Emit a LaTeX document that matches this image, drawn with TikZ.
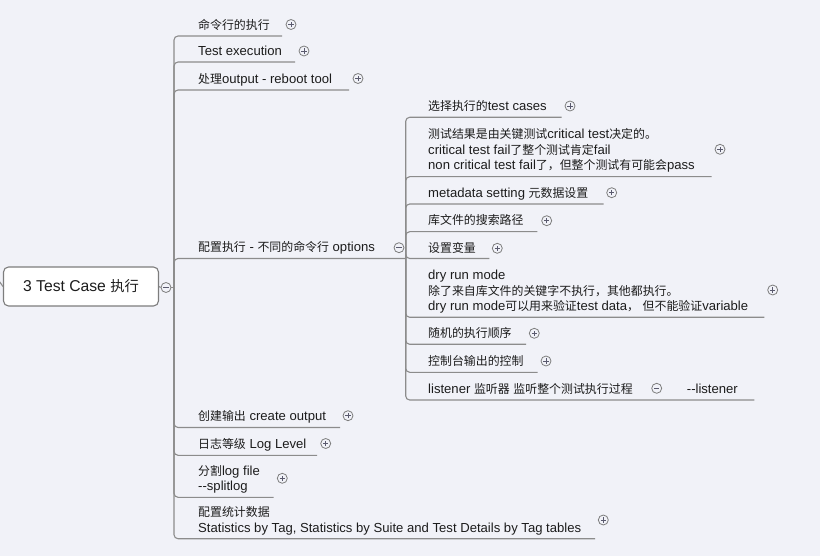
\documentclass[tikz,border=0pt]{standalone}
\usepackage{fontspec}
\setmainfont{Liberation Sans}
\newfontfamily\cjk[Scale=0.91]{Noto Sans CJK SC}
\newcommand\zh[1]{{\cjk #1}}
\definecolor{bgc}{RGB}{241,242,248}
\definecolor{linec}{RGB}{140,140,140}
\definecolor{txtc}{RGB}{28,28,28}
\definecolor{circc}{RGB}{125,125,125}
\definecolor{signc}{RGB}{90,90,110}
\tikzset{
  txt/.style={anchor=south west, inner sep=0pt, align=left, text depth=3pt,
    font=\fontsize{13.1}{15.5}\selectfont, text=txtc},
  branch/.style={draw=linec, line width=1.1pt, rounded corners=4pt},
  pmcirc/.style={circle, draw=circc, line width=0.8pt, minimum size=10pt, inner sep=0pt},
  plusc/.style={pmcirc, path picture={
      \draw[signc, line width=0.9pt]
        ([xshift=-2.6pt]path picture bounding box.center) -- ([xshift=2.6pt]path picture bounding box.center)
        ([yshift=-2.6pt]path picture bounding box.center) -- ([yshift=2.6pt]path picture bounding box.center);}},
  minusc/.style={pmcirc, path picture={
      \draw[signc, line width=0.9pt]
        ([xshift=-2.6pt]path picture bounding box.center) -- ([xshift=2.6pt]path picture bounding box.center);}},
  rootbox/.style={draw=circc, line width=1.1pt, fill=white, rounded corners=5pt,
    minimum width=155pt, minimum height=39pt, inner sep=0pt,
    font=\fontsize{15.7}{18}\selectfont, text=txtc}
}
\begin{document}
\begin{tikzpicture}[x=1pt,y=-1pt]
\fill[bgc] (0,0) rectangle (820,556);
\useasboundingbox (0,0) rectangle (820,556);

% root
\node[rootbox] (root) at (81,286.5) {3 Test Case \zh{执行}};
\coordinate (offparent) at (-3,278);
\draw[linec, line width=1.1pt] (offparent) -- (root.west);
\node[minusc] (rootc) at (166,287.5) {};
\coordinate (t1) at (174,287.5);
\draw[branch] (root.east) -- (rootc.west);
\draw[branch] (rootc.east) -- (t1);

% level-1 underline ends
\coordinate (uA1) at (282,36);
\coordinate (uA2) at (295,62);
\coordinate (uA3) at (349,90);
\coordinate (t2)  at (405.7,258.5);
\coordinate (uA5) at (340,427.5);
\coordinate (uA6) at (317,455.3);
\coordinate (uA7) at (273.5,497.3);
\coordinate (uA8) at (595,538.7);

\foreach \u in {uA1,uA2,uA3,t2,uA5,uA6,uA7,uA8}
  \draw[branch] (t1) |- (\u);

% level-1 texts
\node[txt] (A1) at (198,32.5) {\zh{命令行的执行}};
\node[txt] (A2) at (198,58.5) {Test execution};
\node[txt] (A3) at (198,86.5) {\zh{处理}output - reboot tool};
\node[txt] (A4) at (198,255) {\zh{配置执行} - \zh{不同的命令行} options};
\node[txt] (A5) at (198,424) {\zh{创建输出} create output};
\node[txt] (A6) at (198,451.8) {\zh{日志等级} Log Level};
\node[txt] (A7) at (198,493.8) {\zh{分割}log file\\-{}-splitlog};
\node[txt] (A8) at (198,535.2) {\zh{配置统计数据}\\Statistics by Tag, Statistics by Suite and Test Details by Tag tables};

\node[plusc] (cA1) at (291,24.5) {};
\node[plusc] (cA2) at (304,51) {};
\node[plusc] (cA3) at (358,78.5) {};
\node[minusc] (cA4) at (399,247.7) {};
\node[plusc] (cA5) at (348,415.7) {};
\node[plusc] (cA6) at (325.7,443.5) {};
\node[plusc] (cA7) at (282.3,478.3) {};
\node[plusc] (cA8) at (603.3,520) {};

% level-2 underline ends
\coordinate (uB1) at (561.7,117.3);
\coordinate (uB2) at (711.7,176.7);
\coordinate (uB3) at (603.5,204);
\coordinate (uB4) at (537.3,231.7);
\coordinate (uB5) at (489.3,258.5);
\coordinate (uB6) at (764.3,317.3);
\coordinate (uB7) at (526,344.3);
\coordinate (uB8) at (537.7,372.3);
\coordinate (uB9) at (754.3,400);

\foreach \u in {uB1,uB2,uB3,uB4,uB5,uB6,uB7,uB8,uB9}
  \draw[branch] (t2) |- (\u);

% level-2 texts
\node[txt] (B1) at (428,113.8) {\zh{选择执行的}test cases};
\node[txt] (B2) at (428,173.2) {\zh{测试结果是由关键测试}critical test\zh{决定的。}\\critical test fail\zh{了整个测试肯定}fail\\non critical test fail\zh{了，但整个测试有可能会}pass};
\node[txt] (B3) at (428,200.5) {metadata setting \zh{元数据设置}};
\node[txt] (B4) at (428,228.2) {\zh{库文件的搜索路径}};
\node[txt] (B5) at (428,255.3) {\zh{设置变量}};
\node[txt] (B6) at (428,313.8) {dry run mode\\\zh{除了来自库文件的关键字不执行，其他都执行。}\\dry run mode\zh{可以用来验证}test data\zh{，} \zh{但不能验证}variable};
\node[txt] (B7) at (428,340.8) {\zh{随机的执行顺序}};
\node[txt] (B8) at (428,368.8) {\zh{控制台输出的控制}};
\node[txt] (B9) at (428,396.5) {listener \zh{监听器} \zh{监听整个测试执行过程}};
\node[txt] (B9a) at (686.7,396.5) {-{}-listener};

\node[plusc] (cB1) at (570,106) {};
\node[plusc] (cB2) at (720,149.3) {};
\node[plusc] (cB3) at (611.7,192.7) {};
\node[plusc] (cB4) at (546.7,220.7) {};
\node[plusc] (cB5) at (497.3,248.3) {};
\node[plusc] (cB6) at (772.7,290) {};
\node[plusc] (cB7) at (534.3,333.3) {};
\node[plusc] (cB8) at (546,361) {};
\node[minusc] (cB9) at (656.7,388.3) {};
\end{tikzpicture}
\end{document}
